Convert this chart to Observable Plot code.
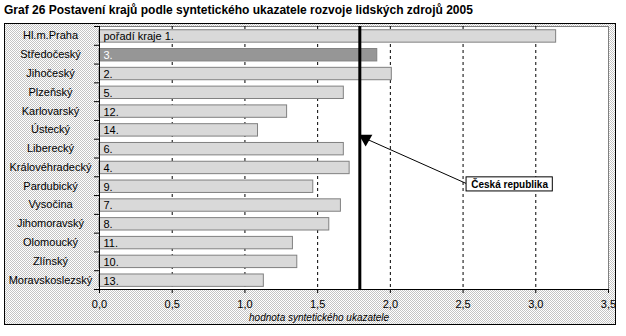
<!DOCTYPE html>
<html><head><meta charset="utf-8">
<script src="https://cdn.jsdelivr.net/npm/d3@7"></script>
<script src="https://cdn.jsdelivr.net/npm/@observablehq/plot@0.6"></script>
<style>
body{margin:0;background:#fff;font-family:Arial,"Liberation Sans",sans-serif;}
#wrap{position:relative;width:626px;height:336px;overflow:hidden;}
#title{position:absolute;left:4px;top:3px;font-weight:bold;font-size:12px;white-space:nowrap;color:#000;}
#box{position:absolute;left:4px;top:23px;width:612px;height:302px;box-sizing:border-box;border:1px solid #000;
 background:repeating-conic-gradient(#c4c4c4 0 25%,#fff 0 50%) 0 0/2px 2px;}
#chart{position:absolute;left:0;top:23px;}
#chart svg{background:transparent;overflow:visible;}
</style></head><body>
<div id="wrap"><div id="title"></div><div id="box"></div><div id="chart"></div></div>
<script>
const titleText = "Graf 26 Postavení krajů podle syntetického ukazatele rozvoje lidských zdrojů 2005";
const regions = ["Hl.m.Praha","Středočeský","Jihočeský","Plzeňský","Karlovarský","Ústecký","Liberecký",
  "Královéhradecký","Pardubický","Vysočina","Jihomoravský","Olomoucký","Zlínský","Moravskoslezský"];
const values = [3.14,1.91,2.01,1.68,1.29,1.09,1.68,1.72,1.47,1.66,1.58,1.33,1.36,1.13];
const rankLabels = ["pořadí kraje 1.","3.","2.","5.","12.","14.","6.","4.","9.","7.","8.","11.","10.","13."];
const highlighted = "Středočeský";
const crValue = 1.79;
const crLabel = "Česká republika";
const xTicks = [0,0.5,1,1.5,2,2.5,3,3.5];
const gridTicks = [0.5,1,1.5,2,2.5,3];
const xLabel = "hodnota syntetického ukazatele";

document.getElementById("title").textContent = titleText;

const rows = regions.map((r,i)=>({region:r, value:values[i], rank:rankLabels[i], i}));
const fmt = d => d3.format(".1f")(d).replace(".", ",");
const font = "Arial, 'Liberation Sans', sans-serif";

const chart = Plot.plot({
  width: 626, height: 313,
  marginTop: 3, marginBottom: 47, marginLeft: 99, marginRight: 18,
  style: {fontFamily: font, background: "transparent", color: "#000"},
  x: {domain: [0, 3.5]},
  y: {domain: [0, regions.length], reverse: true},
  marks: [
    Plot.frame({fill: "#fff", stroke: "#808080"}),
    Plot.ruleX(gridTicks, {stroke: "#000", strokeDasharray: "3,3", strokeWidth: 1}),
    Plot.rectX(rows, {x1: 0, x2: "value", y1: d => d.i + 0.2, y2: d => d.i + 0.86,
      fill: d => d.region === highlighted ? "#969696" : "#d9d9d9", stroke: "#808080", strokeWidth: 1}),
    Plot.ruleX([0], {stroke: "#000"}),
    Plot.ruleY([regions.length], {stroke: "#000"}),
    Plot.axisY({ticks: d3.range(regions.length + 1), tickSize: 5, tickFormat: () => "", stroke: "#000"}),
    Plot.axisX({ticks: xTicks, tickSize: 4, tickPadding: 7, tickFormat: fmt, fontSize: 11, label: null, stroke: "#000"}),
    Plot.text(rows, {x: 0, y: d => d.i + 0.5, text: "region", frameAnchor: "left", dx: -49,
      textAnchor: "middle", fontSize: 11, fill: "#000"}),
    Plot.text(rows, {x: 0, y: d => d.i + 0.55, text: "rank", dx: 4, textAnchor: "start", fontSize: 11,
      fill: d => d.region === highlighted ? "#fff" : "#000",
      fontWeight: d => d.region === highlighted ? "bold" : "normal"}),
    Plot.ruleX([crValue], {stroke: "#000", strokeWidth: 3}),
    Plot.link([{}], {x1: 2.52, y1: 8.35, x2: crValue + 0.02, y2: 5.9, stroke: "#000", strokeWidth: 1}),
    Plot.dot([{}], {x: crValue + 0.04, y: 5.97, symbol: "triangle", r: 5, rotate: 180, fill: "#000", stroke: null}),
    Plot.rect([{}], {x1: 2.524, x2: 3.117, y1: 8.03, y2: 8.78, fill: "#fff", stroke: "#000", strokeWidth: 1}),
    Plot.text([crLabel], {x: 2.82, y: 8.42, text: d => d, fontSize: 10, fontWeight: "bold", fill: "#000"}),
    Plot.text([xLabel], {x: 1.51, frameAnchor: "bottom", dy: 31, text: d => d, fontSize: 10,
      fontStyle: "italic", fill: "#000"})
  ]
});
document.getElementById("chart").appendChild(chart);
</script>
</body></html>
